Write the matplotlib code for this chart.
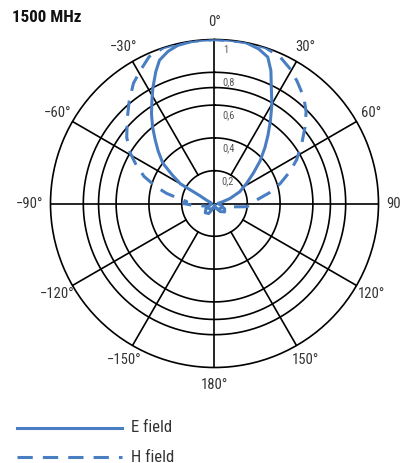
import numpy as np
import matplotlib
matplotlib.use("Agg")
import matplotlib.pyplot as plt
from matplotlib.lines import Line2D

plt.rcParams['font.family'] = ['Roboto Condensed', 'DejaVu Sans']

title = "1500 MHz"
series_names = ["E field", "H field"]

# E field (solid): angle in degrees (clockwise from 0° at top), normalised amplitude
e_angles = [-180, -165, -150, -135, -120, -100, -80, -68, -62, -60, -56, -52, -47, -43,
            -39, -35, -31, -28, -24, -21, -17, -13, -7, 0, 6, 11, 16, 20, 23, 26,
            30, 34, 38, 42, 47, 52, 58, 65, 72, 78, 90, 105, 118, 130, 145, 160, 180]
e_values = [0.01, 0.03, 0.07, 0.08, 0.06, 0.02, 0.02, 0.05, 0.10, 0.24, 0.31, 0.40, 0.47, 0.53,
            0.60, 0.67, 0.74, 0.80, 0.88, 0.936, 0.97, 0.99, 1.0, 1.0, 1.0, 1.0, 0.98, 0.95, 0.88, 0.79,
            0.70, 0.61, 0.53, 0.46, 0.38, 0.30, 0.23, 0.17, 0.10, 0.05, 0.02, 0.04, 0.07, 0.08, 0.06, 0.03, 0.01]

# H field (dashed)
h_angles = [-180, -150, -125, -110, -100, -95, -90, -86, -82, -78, -74, -69, -64, -59,
            -53, -46, -40, -34, -29, -24, -18, -10, 0, 10, 18, 24, 29, 34, 40, 45,
            50, 56, 62, 67, 73, 79, 85, 90, 95.7, 100, 110, 125, 150, 180]
h_values = [0.02, 0.04, 0.05, 0.05, 0.08, 0.13, 0.19, 0.17, 0.22, 0.30, 0.37, 0.46, 0.53, 0.60,
            0.67, 0.74, 0.81, 0.884, 0.93, 0.98, 1.0, 1.0, 1.0, 1.0, 1.0, 0.98, 0.944, 0.90, 0.847, 0.79,
            0.72, 0.64, 0.567, 0.50, 0.42, 0.34, 0.26, 0.22, 0.20, 0.116, 0.06, 0.05, 0.04, 0.02]

ring_values = [0.2, 0.4, 0.6, 0.707, 0.8]
ring_labels = {0.2: "0,2", 0.4: "0,4", 0.6: "0,6", 0.8: "0,8", 1.0: "1"}
spoke_angles = [30, 60, 120, 150, 210, 240, 300, 330]
axis_angles = [0, 90, 180, 270]
angle_labels = {0: "0°", 30: "30°", 60: "60°", 90: "90", 120: "120°", 150: "150°",
                180: "180°", -150: "\u2212150°", -120: "\u2212120°", -90: "\u221290°",
                -60: "\u221260°", -30: "\u221230°"}

BLUE = "#4a7ec2"
TXT = "#333333"
W, H = 400, 463
fig = plt.figure(figsize=(W / 100, H / 100), dpi=100)
cx, cy, R = 214.5, 203.5, 164.0
ax = fig.add_axes([(cx - R) / W, (H - cy - R) / H, 2 * R / W, 2 * R / H], projection='polar')
ax.set_theta_zero_location('N')
ax.set_theta_direction(-1)
ax.set_ylim(0, 1)
ax.grid(False)
ax.set_xticks([])
ax.set_yticks([])
ax.spines['polar'].set_linewidth(1.2)
ax.spines['polar'].set_color('black')

th = np.linspace(0, 2 * np.pi, 721)
for rv in ring_values:
    ax.plot(th, np.full_like(th, rv), color='black', lw=1.2, zorder=1)
for a in spoke_angles:
    ax.plot([np.deg2rad(a)] * 2, [0.2, 1.0], color='black', lw=1.2, zorder=1)
for a in axis_angles:
    ax.plot([np.deg2rad(a)] * 2, [0.0, 1.0], color='black', lw=1.2, zorder=1)

for v, lab in ring_labels.items():
    ax.text(np.deg2rad(3.0 / v), v - 0.03, lab, ha='left', va='top',
            fontsize=7.5, color='#555555', zorder=2)

ax.plot(np.deg2rad(e_angles), e_values, color=BLUE, lw=2.2, zorder=3,
        solid_joinstyle='round', solid_capstyle='round')
ax.plot(np.deg2rad(h_angles), h_values, color=BLUE, lw=2.2, zorder=3,
        dashes=(5.0, 3.3))

for a, lab in angle_labels.items():
    rr = 1.105
    ha = 'center'
    if a == 90:
        ha = 'left'
        rr = 1.05
    elif a == -90:
        ha = 'right'
        rr = 1.045
    ax.text(np.deg2rad(a), rr, lab, ha=ha, va='center', fontsize=10.5, color=TXT,
            clip_on=False)

fig.text(12 / W, 1 - 18 / H, title, fontsize=12.3, fontweight='bold', ha='left', va='center',
         color='#111111')

fig.lines.append(Line2D([17 / W, 122 / W], [1 - 428 / H] * 2, transform=fig.transFigure,
                        color=BLUE, lw=2.2))
fig.lines.append(Line2D([17 / W, 122 / W], [1 - 457 / H] * 2, transform=fig.transFigure,
                        color=BLUE, lw=2.2, dashes=(5.0, 3.3)))
fig.text(131 / W, 1 - 428 / H, series_names[0], fontsize=12, ha='left', va='center', color=TXT)
fig.text(131 / W, 1 - 457 / H, series_names[1], fontsize=12, ha='left', va='center', color=TXT)

fig.savefig("out.png", dpi=100)
